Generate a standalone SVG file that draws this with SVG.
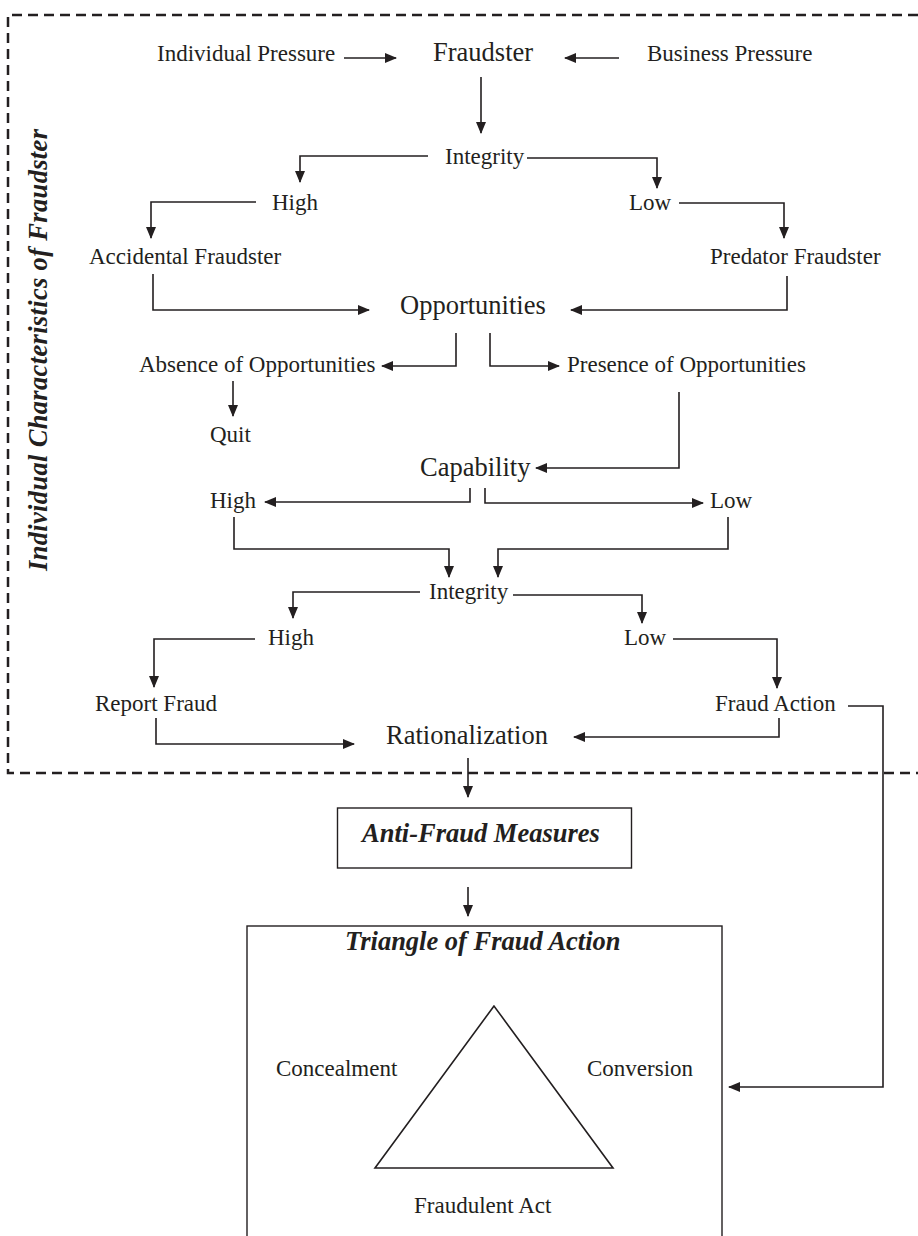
<svg xmlns="http://www.w3.org/2000/svg" width="918" height="1236" viewBox="0 0 918 1236">
<defs>
<marker id="ah" markerUnits="userSpaceOnUse" markerWidth="12" markerHeight="10" viewBox="0 0 12 10" refX="11" refY="5" orient="auto">
<path d="M0,0 L12,5 L0,10 z" fill="#231f20"/>
</marker>
</defs>
<style>
.t{font-family:"Liberation Serif","Times New Roman",serif;fill:#231f20;font-size:23px}
.L{font-size:26.5px}
.bi{font-weight:bold;font-style:italic;font-size:26.5px}
.c{fill:none;stroke:#231f20;stroke-width:1.6;marker-end:url(#ah)}
.box{fill:none;stroke:#231f20;stroke-width:1.4}
.dash{fill:none;stroke:#231f20;stroke-width:2.5;stroke-dasharray:10 6}
</style>
<rect width="918" height="1236" fill="#fff"/>
<g id="frame">
<path class="dash" d="M918,15 H8 V773 H918"/>
<text class="t bi" transform="translate(47,571) rotate(-90)" textLength="442" lengthAdjust="spacing">Individual Characteristics of Fraudster</text>
</g>
<g id="connectors">
<path class="c" d="M344,58 H396"/>
<path class="c" d="M619,58 H565"/>
<path class="c" d="M481,77 V133"/>
<path class="c" d="M428,156 H300 V182"/>
<path class="c" d="M527,158 H657 V188"/>
<path class="c" d="M256,202 H151 V238"/>
<path class="c" d="M679,203 H784 V238"/>
<path class="c" d="M153,274 V310 H369"/>
<path class="c" d="M787,276 V310 H571"/>
<path class="c" d="M456,333 V366 H382"/>
<path class="c" d="M490,333 V366 H559"/>
<path class="c" d="M233,381 V416"/>
<path class="c" d="M679,392 V468 H536"/>
<path class="c" d="M470,488 V502 H265"/>
<path class="c" d="M485,488 V503 H703"/>
<path class="c" d="M234,517 V549 H449 V577"/>
<path class="c" d="M728,517 V549 H498 V577"/>
<path class="c" d="M420,592 H293 V618"/>
<path class="c" d="M513,595 H642 V623"/>
<path class="c" d="M255,639 H154 V687"/>
<path class="c" d="M673,639 H777 V688"/>
<path class="c" d="M156,718 V744 H354"/>
<path class="c" d="M779,718 V737 H574"/>
<path class="c" d="M468,758 V797"/>
<path class="c" d="M468,887 V916"/>
<path class="c" d="M848,706 H883 V1087 H729"/>
</g>
<g id="n-individual-pressure"><text class="t" x="157" y="61">Individual Pressure</text></g>
<g id="n-fraudster"><text class="t L" x="433" y="61">Fraudster</text></g>
<g id="n-business-pressure"><text class="t" x="647" y="61">Business Pressure</text></g>
<g id="n-integrity1"><text class="t" x="445" y="164">Integrity</text></g>
<g id="n-high1"><text class="t" x="272" y="210">High</text></g>
<g id="n-low1"><text class="t" x="629" y="210">Low</text></g>
<g id="n-accidental"><text class="t" x="89" y="264">Accidental Fraudster</text></g>
<g id="n-predator"><text class="t" x="710" y="264">Predator Fraudster</text></g>
<g id="n-opportunities"><text class="t L" x="400" y="314">Opportunities</text></g>
<g id="n-absence"><text class="t" x="139" y="372">Absence of Opportunities</text></g>
<g id="n-presence"><text class="t" x="567" y="372">Presence of Opportunities</text></g>
<g id="n-quit"><text class="t" x="210" y="442">Quit</text></g>
<g id="n-capability"><text class="t L" x="420" y="476">Capability</text></g>
<g id="n-high2"><text class="t" x="210" y="508">High</text></g>
<g id="n-low2"><text class="t" x="710" y="508">Low</text></g>
<g id="n-integrity2"><text class="t" x="429" y="599">Integrity</text></g>
<g id="n-high3"><text class="t" x="268" y="645">High</text></g>
<g id="n-low3"><text class="t" x="624" y="645">Low</text></g>
<g id="n-report-fraud"><text class="t" x="95" y="711">Report Fraud</text></g>
<g id="n-fraud-action"><text class="t" x="715" y="711">Fraud Action</text></g>
<g id="n-rationalization"><text class="t L" x="386" y="744">Rationalization</text></g>
<g id="n-anti-fraud">
<rect class="box" x="337.5" y="808" width="294" height="60"/>
<text class="t bi" x="362" y="842">Anti-Fraud Measures</text>
</g>
<g id="n-triangle">
<rect class="box" x="247" y="926" width="475" height="320"/>
<text class="t bi" x="345" y="950">Triangle of Fraud Action</text>
<polygon points="494,1006 375,1168 613,1168" fill="none" stroke="#231f20" stroke-width="1.6"/>
<text class="t" x="276" y="1076">Concealment</text>
<text class="t" x="587" y="1076">Conversion</text>
<text class="t" x="414" y="1213">Fraudulent Act</text>
</g>
</svg>
